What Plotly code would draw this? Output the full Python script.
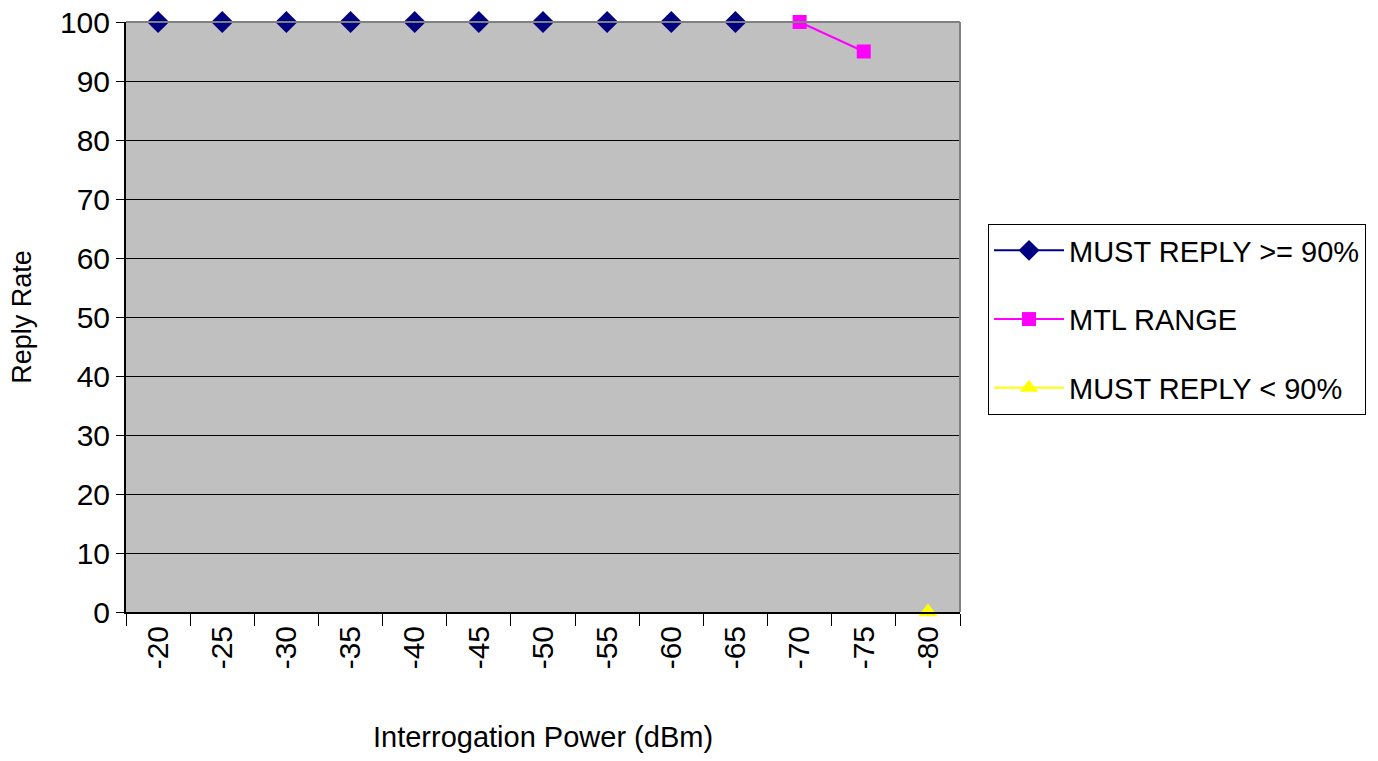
import plotly.graph_objects as go

# Interrogation power categories (dBm) and reply rates (%)
power_labels = ["-20", "-25", "-30", "-35", "-40", "-45", "-50",
                "-55", "-60", "-65", "-70", "-75", "-80"]

must_reply_x = ["-20", "-25", "-30", "-35", "-40", "-45", "-50",
                "-55", "-60", "-65"]
must_reply_y = [100, 100, 100, 100, 100, 100, 100, 100, 100, 100]

mtl_x = ["-70", "-75"]
mtl_y = [100, 95]

below_x = ["-80"]
below_y = [0]

FONT = "Liberation Sans Narrow, Arial Narrow, Liberation Sans, Arial, sans-serif"

fig = go.Figure()
fig.add_trace(go.Scatter(
    x=must_reply_x, y=must_reply_y, name="MUST REPLY >= 90%",
    mode="lines+markers", legendgroup="a",
    line=dict(color="#000080", width=2),
    marker=dict(symbol="diamond", size=17, color="#000080"),
    cliponaxis=False,
))
fig.add_trace(go.Scatter(
    x=mtl_x, y=mtl_y, name="MTL RANGE",
    mode="lines+markers", legendgroup="b",
    line=dict(color="#FF00FF", width=2),
    marker=dict(symbol="square", size=14, color="#FF00FF"),
    cliponaxis=False,
))
fig.add_trace(go.Scatter(
    x=below_x, y=below_y, name="MUST REPLY < 90%",
    mode="lines+markers", legendgroup="c",
    line=dict(color="#FFFF00", width=2),
    marker=dict(symbol="triangle-up", size=17, color="#FFFF00"),
    cliponaxis=False,
))

# gray frame on the top and right of the plot area
fig.add_shape(type="line", xref="paper", yref="paper", x0=0, x1=1, y0=1, y1=1,
              line=dict(color="#808080", width=2), layer="above")
fig.add_shape(type="line", xref="paper", yref="paper", x0=1, x1=1, y0=0, y1=1,
              line=dict(color="#808080", width=2), layer="above")

fig.update_layout(
    width=1378, height=761,
    margin=dict(l=126, r=418, t=22, b=149),
    paper_bgcolor="white",
    plot_bgcolor="#C0C0C0",
    font=dict(family=FONT, color="black", size=30),
    showlegend=True,
    legend=dict(
        xref="container", yref="container",
        x=988 / 1378, y=1 - 224 / 761, xanchor="left", yanchor="top",
        bgcolor="white", bordercolor="black", borderwidth=1,
        font=dict(family=FONT, size=29),
        itemwidth=70, tracegroupgap=28,
    ),
    xaxis=dict(
        type="category", categoryorder="array", categoryarray=power_labels,
        range=[-0.5, len(power_labels) - 0.5], automargin=False,
        showline=True, linecolor="black", linewidth=2,
        ticks="outside", tickson="boundaries", ticklen=12, tickcolor="black",
        tickangle=-90, showgrid=False,
        tickfont=dict(family=FONT, size=30),
        title=dict(text="Interrogation Power (dBm)", standoff=58,
                   font=dict(family=FONT, size=29)),
    ),
    yaxis=dict(
        range=[0, 100], dtick=10, automargin=False,
        showline=True, linecolor="black", linewidth=2,
        ticks="outside", ticklen=8, tickcolor="black",
        showgrid=True, gridcolor="black", gridwidth=1, zeroline=False,
        tickfont=dict(family=FONT, size=30),
        title=dict(text="Reply Rate", standoff=20,
                   font=dict(family=FONT, size=27)),
    ),
)

fig.write_html("out.html")
